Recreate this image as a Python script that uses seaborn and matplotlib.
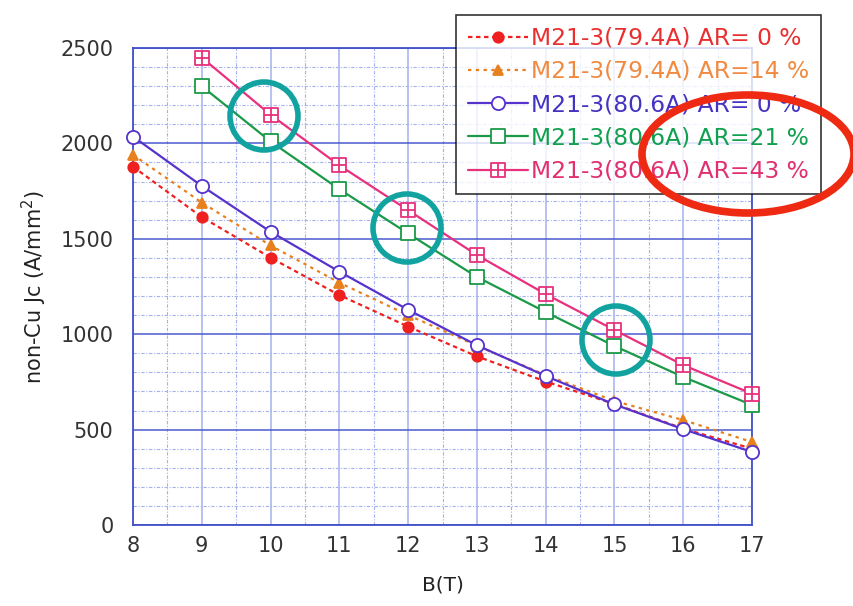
import numpy as np
import pandas as pd
import matplotlib
matplotlib.use("Agg")
import matplotlib.pyplot as plt
import seaborn as sns
from matplotlib.path import Path
from matplotlib.patches import Ellipse
from matplotlib.ticker import MultipleLocator

# ---- data ----
B = [8, 9, 10, 11, 12, 13, 14, 15, 16, 17]
jc_794_ar0 = [1878, 1614, 1401, 1205, 1040, 884, 752, 634, 505, 400]
jc_794_ar14 = [1940, 1690, 1465, 1270, 1100, 940, 786, 650, 550, 435]
jc_806_ar0 = [2036, 1777, 1537, 1328, 1128, 942, 781, 632, 502, 383]
jc_806_ar21 = [np.nan, 2300, 2010, 1760, 1528, 1300, 1116, 938, 776, 629]
jc_806_ar43 = [np.nan, 2450, 2150, 1885, 1650, 1415, 1210, 1022, 838, 688]
labels = ["M21-3(79.4A) AR= 0 %", "M21-3(79.4A) AR=14 %", "M21-3(80.6A) AR= 0 %",
          "M21-3(80.6A) AR=21 %", "M21-3(80.6A) AR=43 %"]
x_ticks = [8, 9, 10, 11, 12, 13, 14, 15, 16, 17]
y_ticks = [0, 500, 1000, 1500, 2000, 2500]

sns.set_theme(style="white")
plt.rcParams['font.family'] = ['DejaVu Sans']

W, H = 854, 606
fig = plt.figure(figsize=(W / 100, H / 100), dpi=100)
ax = fig.add_axes([133 / W, 1 - 525 / H, (752 - 133) / W, (525 - 48) / H])

# custom markers
sq = [(-1, -1), (1, -1), (1, 1), (-1, 1), (-1, -1)]
sq_codes = [Path.MOVETO, Path.LINETO, Path.LINETO, Path.LINETO, Path.CLOSEPOLY]
plus_verts = [(0, -1), (0, 1), (-1, 0), (1, 0)]
plus_codes = [Path.MOVETO, Path.LINETO, Path.MOVETO, Path.LINETO]
sq_plus = Path(sq + plus_verts, sq_codes + plus_codes)
d = 0.06
dot = [(-d, -d), (d, -d), (d, d), (-d, d), (-d, -d)]
sq_dot = Path(sq + dot, sq_codes + sq_codes)

series = [
    (jc_794_ar0, "#ee2020", "o", (0, (2.0, 1.6)), 7.5, "#ee2020", "#e83030"),
    (jc_794_ar14, "#e8801e", "^", (0, (1.5, 2.0)), 7, "#e8801e", "#f08a40"),
    (jc_806_ar0, "#5533cc", "o", "-", 9.5, "white", "#4433c0"),
    (jc_806_ar21, "#1a9a48", sq_dot, "-", 10, "white", "#10a050"),
    (jc_806_ar43, "#e8307c", sq_plus, "-", 10, "white", "#e03070"),
]

handles = []
for (vals, col, mk, ls, ms, mfc, tcol), lab in zip(series, labels):
    df = pd.DataFrame({"B": B, "Jc": vals}).dropna()
    sns.lineplot(data=df, x="B", y="Jc", ax=ax, color=col, marker=mk, linestyle=ls,
                 linewidth=1.6, markersize=ms, markerfacecolor=mfc, markeredgecolor=col,
                 markeredgewidth=1.3, label=lab, clip_on=False, zorder=4)
    handles.append(ax.get_lines()[-1])

ax.set_xlim(8, 17)
ax.set_ylim(0, 2500)
ax.set_xticks(x_ticks)
ax.set_yticks(y_ticks)
ax.xaxis.set_minor_locator(MultipleLocator(0.5))
ax.yaxis.set_minor_locator(MultipleLocator(100))

# grids
ax.grid(which="major", axis="x", color="#aab8f0", linewidth=1.2, linestyle="-", zorder=0)
ax.grid(which="major", axis="y", color="#4a5ad0", linewidth=1.1, linestyle="-", zorder=0)
ax.grid(which="minor", axis="both", color="#a4b2ec", linewidth=0.8, linestyle=(0, (3, 1.5, 1, 1.5)), zorder=0)
ax.set_axisbelow(True)

for s in ax.spines.values():
    s.set_color("#4050c8")
    s.set_linewidth(1.3)
ax.tick_params(which="both", direction="in", color="#4050c8", labelsize=15, labelcolor="#333333")
ax.tick_params(which="major", length=5, pad=8)
ax.tick_params(which="minor", length=3)
ax.tick_params(axis="y", which="both", left=False, pad=14)

ax.set_xlabel("B(T)", fontsize=14.5, color="#222222", labelpad=14)
ax.set_ylabel("non-Cu Jc (A/mm$^2$)", fontsize=15, color="#222222", labelpad=8)

ax.get_legend().remove()
leg = fig.legend(handles=handles, labels=labels, loc="upper left",
                 bbox_to_anchor=(456 / W, 1 - 15 / H), bbox_transform=fig.transFigure,
                 fontsize=16.8, frameon=True, fancybox=False, edgecolor="black",
                 handlelength=2.6, handletextpad=0.12, labelspacing=0.44,
                 borderpad=0.5, borderaxespad=0)
leg.get_frame().set_linewidth(1.2)
for t, s in zip(leg.get_texts(), series):
    t.set_color(s[6])

# annotation shapes (pixel-based, figure coords)
def px_ellipse(cx, cy, w, h, col, lw):
    e = Ellipse((cx / W, 1 - cy / H), w / W, h / H, transform=fig.transFigure,
                fill=False, edgecolor=col, linewidth=lw, zorder=20)
    fig.patches.append(e)

for cx, cy in [(264, 116), (407, 228), (616, 340)]:
    px_ellipse(cx, cy, 68, 68, "#12a3a0", 4.0)
px_ellipse(748, 154, 212, 118, "#ee2a12", 5.5)

fig.savefig("out.png", dpi=100)
